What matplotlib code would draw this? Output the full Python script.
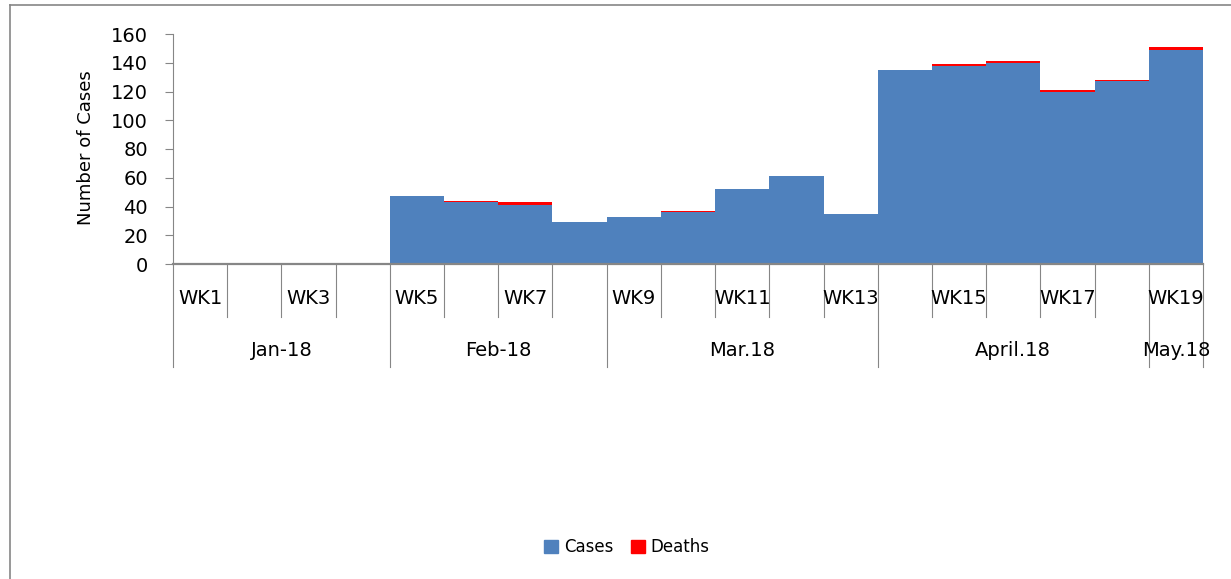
import matplotlib
matplotlib.use("Agg")
import matplotlib.pyplot as plt
from matplotlib.lines import Line2D
from matplotlib.patches import Patch
import matplotlib.transforms as mtransforms

plt.rcParams["font.family"] = ["DejaVu Sans"]

weeks = [f"WK{i}" for i in range(1, 20)]
cases = [0, 0, 0, 0, 47, 43, 41, 29, 33, 36, 52, 61, 35, 135, 138, 140, 120, 127, 149]
deaths = [0, 0, 0, 0, 0, 1, 2, 0, 0, 1, 0, 0, 0, 0, 1, 1, 1, 1, 2]
months = ["Jan-18", "Feb-18", "Mar.18", "April.18", "May.18"]
month_first = [1, 5, 9, 14, 19]
month_last = [4, 8, 13, 18, 19]

BLUE = "#4F81BD"
RED = "#FF0000"
GRAY = "#868686"

fig = plt.figure(figsize=(12.31, 5.79), dpi=100)
ax = fig.add_axes([173 / 1231, 1 - 264 / 579, 1030 / 1231, 230 / 579])

x = list(range(1, len(weeks) + 1))
ax.bar(x, cases, width=1.0, color=BLUE, linewidth=0, label="Cases")
ax.bar(x, deaths, width=1.0, bottom=cases, color=RED, linewidth=0, label="Deaths")

ax.set_xlim(0.5, len(weeks) + 0.5)
ax.set_ylim(0, 160)
ax.set_yticks(range(0, 161, 20))
ax.tick_params(axis="y", direction="out", length=6, color=GRAY, labelsize=14, pad=12)
ax.set_xticks([])
for side in ["top", "right"]:
    ax.spines[side].set_visible(False)
ax.spines["left"].set_color(GRAY)
ax.spines["bottom"].set_color(GRAY)
ax.spines["bottom"].set_linewidth(1.6)
fig.text(86 / 1231, 1 - 148 / 579, "Number of Cases", rotation=90,
         ha="center", va="center", fontsize=13)

# two-level category axis
trans = mtransforms.blended_transform_factory(ax.transData, ax.transAxes)
week_bottom = (264 - 317) / 230
month_bottom = (264 - 367) / 230
month_edges = set([f - 0.5 for f in month_first] + [month_last[-1] + 0.5])
for i in range(len(weeks) + 1):
    xb = i + 0.5
    yb = month_bottom if xb in month_edges else week_bottom
    ax.plot([xb, xb], [0, yb], color=GRAY, lw=0.8, transform=trans, clip_on=False)

for i, w in enumerate(weeks):
    if i % 2 == 0:
        ax.text(i + 1, (264 - 298) / 230, w, transform=trans, ha="center", va="center",
                fontsize=14)

for m, a, b in zip(months, month_first, month_last):
    ax.text((a + b) / 2, (264 - 350) / 230, m, transform=trans, ha="center", va="center",
            fontsize=14)

# chart area border
fig.add_artist(Line2D([10 / 1231, 10 / 1231], [0, 1 - 5 / 579], color=GRAY, lw=1.2))
fig.add_artist(Line2D([10 / 1231, 1], [1 - 5 / 579, 1 - 5 / 579], color=GRAY, lw=1.2))

handles = [Patch(color=BLUE, label="Cases"), Patch(color=RED, label="Deaths")]
fig.legend(handles=handles, loc="center", bbox_to_anchor=(627 / 1231, 1 - 547 / 579),
           ncol=2, frameon=False, fontsize=12, handlelength=0.8, handleheight=0.8,
           handletextpad=0.35, columnspacing=1.1)

fig.savefig("out.png", dpi=100)
